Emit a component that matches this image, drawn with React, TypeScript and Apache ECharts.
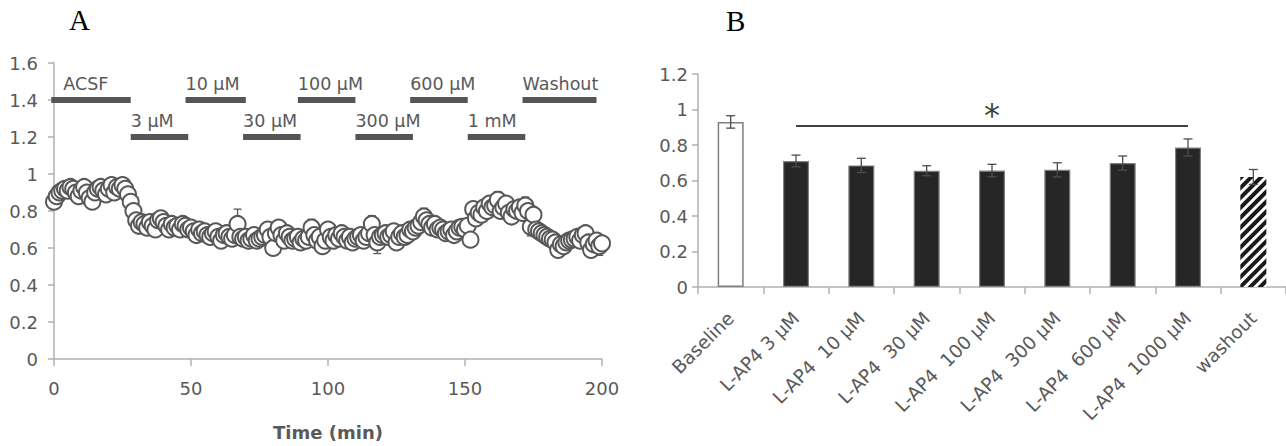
import React, { useEffect, useRef } from "react";
import * as echarts from "echarts";

// Panel A: normalised response, one value per minute (t = 0..200)
const A_VALUES = [
  0.85, 0.88, 0.9, 0.91, 0.92, 0.91, 0.93, 0.92, 0.9, 0.88,
  0.91, 0.93, 0.9, 0.87, 0.85, 0.9, 0.92, 0.93, 0.91, 0.89,
  0.92, 0.94, 0.9, 0.93, 0.92, 0.94, 0.92, 0.89, 0.85, 0.8,
  0.75, 0.72, 0.74, 0.73, 0.71, 0.74, 0.72, 0.7, 0.75, 0.76,
  0.74, 0.72, 0.7, 0.73, 0.71, 0.72, 0.7, 0.73, 0.72, 0.7,
  0.71, 0.69, 0.67, 0.7, 0.68, 0.69, 0.67, 0.66, 0.68, 0.69,
  0.66, 0.64, 0.67, 0.68, 0.66, 0.65, 0.67, 0.73, 0.66, 0.65,
  0.66, 0.64, 0.65, 0.67, 0.64, 0.65, 0.66, 0.67, 0.7, 0.66,
  0.6, 0.68, 0.71, 0.67, 0.64, 0.68, 0.66, 0.64, 0.65, 0.66,
  0.63, 0.65, 0.64, 0.66, 0.71, 0.67, 0.64, 0.66, 0.61, 0.64,
  0.7, 0.66, 0.64, 0.67, 0.65, 0.68, 0.66, 0.64, 0.66, 0.63,
  0.65, 0.66, 0.67, 0.64, 0.66, 0.68, 0.73, 0.67, 0.63, 0.66,
  0.67, 0.68, 0.66, 0.67, 0.69, 0.63, 0.66, 0.68, 0.66, 0.67,
  0.7, 0.69, 0.71, 0.72, 0.74, 0.77, 0.75, 0.73, 0.71, 0.73,
  0.7, 0.71, 0.7, 0.68, 0.69, 0.7, 0.67, 0.69, 0.71, 0.715,
  0.7, 0.72, 0.645, 0.81, 0.76, 0.79, 0.78, 0.82, 0.8, 0.84,
  0.82, 0.83, 0.86, 0.8, 0.82, 0.84, 0.79, 0.77, 0.81, 0.8,
  0.82, 0.79, 0.83, 0.8, 0.715, 0.78, 0.7, 0.69, 0.68, 0.67,
  0.66, 0.65, 0.645, 0.63, 0.59, 0.62, 0.61, 0.63, 0.64, 0.645,
  0.65, 0.66, 0.64, 0.67, 0.68, 0.63, 0.59, 0.62, 0.64, 0.61,
  0.625,
];
// visible error bars (minute, s.e.m.)
const A_ERR_TIMES = [39, 67, 94, 116, 118, 135, 153, 159, 162, 164, 169, 172, 174, 199];
const A_ERR_SIZES = [0.035, 0.08, 0.045, 0.045, 0.06, 0.045, 0.035, 0.04, 0.045, 0.04, 0.045, 0.045, 0.05, 0.05];

const DRUG_NAMES = ["ACSF", "3 µM", "10 µM", "30 µM", "100 µM", "300 µM", "600 µM", "1 mM", "Washout"];
const DRUG_START = [-1, 28, 48, 69, 89, 110, 130, 151, 171];
const DRUG_END = [28, 49, 70, 90, 110, 131, 151, 172, 198];
const DRUG_LEVEL = [1.4, 1.2, 1.4, 1.2, 1.4, 1.2, 1.4, 1.2, 1.4];

// Panel B
const B_CATS = [
  "Baseline",
  "L-AP4 3 µM",
  "L-AP4  10 µM",
  "L-AP4  30 µM",
  "L-AP4  100 µM",
  "L-AP4  300 µM",
  "L-AP4  600 µM",
  "L-AP4  1000 µM",
  "washout",
];
const B_MEAN = [0.93, 0.71, 0.685, 0.655, 0.656, 0.66, 0.698, 0.786, 0.62];
const B_SEM = [0.035, 0.033, 0.04, 0.028, 0.035, 0.04, 0.04, 0.048, 0.042];
const SIG_FROM = [1];
const SIG_TO = [7];
const SIG_Y = [0.907];
const SIG_LABEL = ["*"];

const FONT = "DejaVu Sans";
const GREY_TEXT = "#595959";
const AXIS_GREY = "#b0b0b0";

export default function App() {
  const ref = useRef<HTMLDivElement>(null);

  useEffect(() => {
    if (!ref.current) return;
    const chart = echarts.init(ref.current, undefined, { renderer: "svg" });

    const scatterData = A_VALUES.map((v, i) => [i, v]);
    const errData = A_ERR_TIMES.map((t, i) => [t, A_VALUES[t], A_ERR_SIZES[i]]);
    const drugData = DRUG_NAMES.map((_, i) => [DRUG_START[i], DRUG_END[i], DRUG_LEVEL[i], i]);
    const bErrData = B_MEAN.map((m, i) => [i, m, B_SEM[i]]);
    const sigData = SIG_FROM.map((f, i) => [f, SIG_TO[i], SIG_Y[i], i]);

    const errRender = (capHalf: number, color: string) => (params: any, api: any) => {
      const x = api.value(0);
      const y = api.value(1);
      const e = api.value(2);
      const top = api.coord([x, y + e]);
      const bot = api.coord([x, y - e]);
      const st = { stroke: color, lineWidth: 1.3 };
      return {
        type: "group",
        children: [
          { type: "line", shape: { x1: top[0], y1: top[1], x2: bot[0], y2: bot[1] }, style: st },
          { type: "line", shape: { x1: top[0] - capHalf, y1: top[1], x2: top[0] + capHalf, y2: top[1] }, style: st },
          { type: "line", shape: { x1: bot[0] - capHalf, y1: bot[1], x2: bot[0] + capHalf, y2: bot[1] }, style: st },
        ],
      };
    };

    const barItems = B_MEAN.map((m, i) => {
      if (i === 0) {
        return { value: m, itemStyle: { color: "#ffffff", borderColor: "#7f7f7f", borderWidth: 1.5 } };
      }
      if (i === B_MEAN.length - 1) {
        return {
          value: m,
          itemStyle: {
            color: "#ffffff",
            borderColor: "#ffffff",
            borderWidth: 0,
            decal: {
              symbol: "rect",
              symbolSize: 1,
              dashArrayX: [1, 0],
              dashArrayY: [3.5, 3],
              rotation: -Math.PI / 4,
              color: "#1a1a1a",
            },
          },
        };
      }
      return { value: m, itemStyle: { color: "#262626", borderColor: "#7f7f7f", borderWidth: 1.2 } };
    });

    const option: any = {
      animation: false,
      backgroundColor: "#ffffff",
      graphic: [
        { type: "text", left: 69, top: 5, style: { text: "A", fontSize: 29, fontFamily: "Liberation Serif", fill: "#000" } },
        { type: "text", left: 726, top: 6, style: { text: "B", fontSize: 29, fontFamily: "Liberation Serif", fill: "#000" } },
      ],
      grid: [
        { left: 54, top: 63, width: 548, height: 302 },
        { left: 698, top: 74, width: 588, height: 213 },
      ],
      xAxis: [
        {
          gridIndex: 0,
          type: "value",
          min: 0,
          max: 200,
          interval: 50,
          name: "Time (min)",
          nameLocation: "middle",
          nameGap: 64,
          nameTextStyle: { fontFamily: FONT, fontSize: 18, fontWeight: "bold", color: GREY_TEXT },
          axisLine: { show: true, lineStyle: { color: AXIS_GREY, width: 1.5 } },
          axisTick: { show: true, length: 7, lineStyle: { color: AXIS_GREY, width: 1.5 } },
          axisLabel: { fontFamily: FONT, fontSize: 18, color: GREY_TEXT, margin: 20 },
          splitLine: { show: false },
        },
        {
          gridIndex: 1,
          type: "category",
          data: B_CATS,
          axisLine: { show: true, lineStyle: { color: AXIS_GREY, width: 1.5 } },
          axisTick: { show: true, length: 7, lineStyle: { color: AXIS_GREY, width: 1.5 } },
          axisLabel: { fontFamily: FONT, fontSize: 18.5, color: GREY_TEXT, rotate: 45, margin: 28, interval: 0 },
          splitLine: { show: false },
        },
      ],
      yAxis: [
        {
          gridIndex: 0,
          type: "value",
          min: 0,
          max: 1.6,
          interval: 0.2,
          axisLine: { show: true, lineStyle: { color: AXIS_GREY, width: 1.5 } },
          axisTick: { show: true, length: 6, lineStyle: { color: AXIS_GREY, width: 1.5 } },
          axisLabel: { fontFamily: FONT, fontSize: 18, color: GREY_TEXT, margin: 16 },
          splitLine: { show: false },
        },
        {
          gridIndex: 1,
          type: "value",
          min: 0,
          max: 1.2,
          interval: 0.2,
          axisLine: { show: true, lineStyle: { color: AXIS_GREY, width: 1.5 } },
          axisTick: { show: true, length: 6, lineStyle: { color: AXIS_GREY, width: 1.5 } },
          axisLabel: { fontFamily: FONT, fontSize: 18, color: GREY_TEXT, margin: 10 },
          splitLine: { show: false },
        },
      ],
      series: [
        {
          type: "custom",
          xAxisIndex: 0,
          yAxisIndex: 0,
          data: drugData,
          z: 3,
          renderItem: (params: any, api: any) => {
            const p1 = api.coord([api.value(0), api.value(2)]);
            const p2 = api.coord([api.value(1), api.value(2)]);
            const idx = api.value(3);
            return {
              type: "group",
              children: [
                { type: "rect", shape: { x: p1[0], y: p1[1] - 3, width: p2[0] - p1[0], height: 6 }, style: { fill: "#555555" } },
                {
                  type: "text",
                  style: {
                    text: DRUG_NAMES[idx],
                    x: p1[0] + (idx === 0 ? 12 : 0),
                    y: p1[1] - 7,
                    fill: GREY_TEXT,
                    fontSize: 17.5,
                    fontFamily: FONT,
                    align: "left",
                    verticalAlign: "bottom",
                  },
                },
              ],
            };
          },
        },
        {
          type: "custom",
          xAxisIndex: 0,
          yAxisIndex: 0,
          data: errData,
          z: 2,
          renderItem: errRender(4, "#595959"),
        },
        {
          type: "scatter",
          xAxisIndex: 0,
          yAxisIndex: 0,
          data: scatterData,
          symbol: "circle",
          symbolSize: 16,
          z: 4,
          itemStyle: { color: "#ffffff", borderColor: "#585858", borderWidth: 2, opacity: 1 },
        },
        {
          type: "bar",
          xAxisIndex: 1,
          yAxisIndex: 1,
          data: barItems,
          barWidth: 26,
          z: 2,
        },
        {
          type: "custom",
          xAxisIndex: 1,
          yAxisIndex: 1,
          data: bErrData,
          z: 5,
          renderItem: errRender(4.5, "#4d4d4d"),
        },
        {
          type: "custom",
          xAxisIndex: 1,
          yAxisIndex: 1,
          data: sigData,
          z: 5,
          renderItem: (params: any, api: any) => {
            const a = api.coord([api.value(0), api.value(2)]);
            const b = api.coord([api.value(1), api.value(2)]);
            const idx = api.value(3);
            const mid = api.coord([(api.value(0) + api.value(1)) / 2 - 0.22, api.value(2)]);
            return {
              type: "group",
              children: [
                { type: "line", shape: { x1: a[0], y1: a[1], x2: b[0], y2: b[1] }, style: { stroke: "#404040", lineWidth: 2 } },
                {
                  type: "text",
                  style: {
                    text: SIG_LABEL[idx],
                    x: mid[0],
                    y: mid[1] + 5,
                    fill: "#404040",
                    fontSize: 32,
                    fontFamily: FONT,
                    align: "center",
                    verticalAlign: "bottom",
                  },
                },
              ],
            };
          },
        },
      ],
    };

    chart.setOption(option);
    return () => chart.dispose();
  }, []);

  return (
    <div
      ref={ref}
      style={{ position: "absolute", left: 0, top: 0, width: 1286, height: 446, background: "#fff" }}
    />
  );
}
